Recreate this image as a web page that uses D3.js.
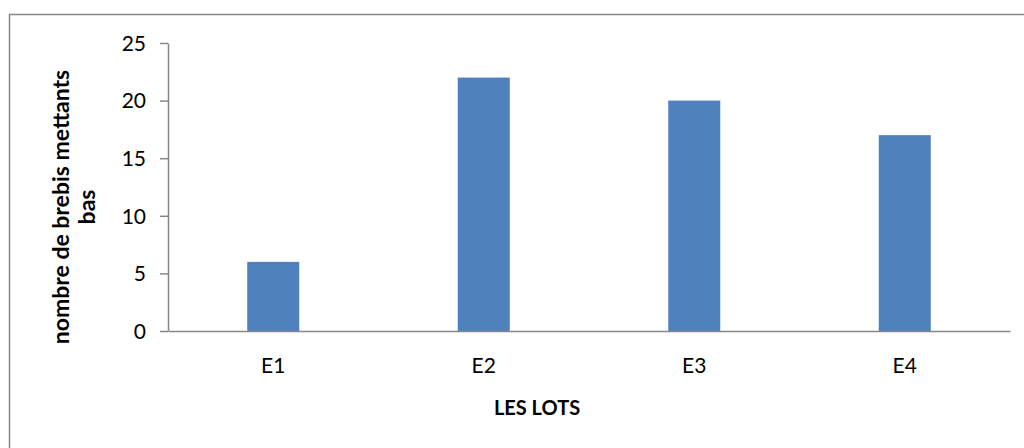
<!DOCTYPE html>
<html>
<head>
<meta charset="utf-8">
<script src="https://cdn.jsdelivr.net/npm/d3@7"></script>
<style>
  html, body { margin: 0; padding: 0; background: #fff; }
  svg { display: block; }
  text { font-family: Lato, "Open Sans", sans-serif; fill: #000; }
</style>
</head>
<body>
<svg id="chart" width="1024" height="448"></svg>
<script>
// Nombre de brebis mettants bas par lot
const lots = ["E1", "E2", "E3", "E4"];
const brebis = [6, 22, 20, 17];
const yTicks = [0, 5, 10, 15, 20, 25];

const svg = d3.select("#chart");
const W = 1024, H = 448;
const plot = { left: 168, right: 1010, top: 43, bottom: 331 };

// outer chart frame (extends past the right and bottom edges)
svg.append("rect")
  .attr("x", 9.5).attr("y", 14.5)
  .attr("width", W + 10).attr("height", H + 10)
  .attr("fill", "none").attr("stroke", "#878787").attr("stroke-width", 1.5);

const x = d3.scaleBand().domain(lots).range([plot.left, plot.right]).paddingInner(0).paddingOuter(0);
const y = d3.scaleLinear().domain([0, 25]).range([plot.bottom, plot.top]);

const barW = 52;

// bars
svg.append("g").selectAll("rect")
  .data(lots.map((l, i) => ({ lot: l, v: brebis[i] })))
  .join("rect")
  .attr("x", d => x(d.lot) + x.bandwidth() / 2 - barW / 2)
  .attr("y", d => y(d.v))
  .attr("width", barW)
  .attr("height", d => y(0) - y(d.v))
  .attr("fill", "#4F81BD");

// y axis
const yAxis = svg.append("g")
  .attr("transform", `translate(${plot.left},0)`)
  .call(d3.axisLeft(y).tickValues(yTicks).tickSize(8).tickPadding(14).tickSizeOuter(0));
yAxis.select(".domain").attr("stroke", "#878787").attr("stroke-width", 1.5);
yAxis.selectAll(".tick line").attr("stroke", "#878787").attr("stroke-width", 1.5);
yAxis.selectAll(".tick text").style("font-size", "21px").attr("fill", "#000").attr("dy", "0.35em");

// x axis
const xAxis = svg.append("g")
  .attr("transform", `translate(0,${plot.bottom})`)
  .call(d3.axisBottom(x).tickSize(0).tickPadding(27).tickSizeOuter(0));
xAxis.select(".domain").attr("stroke", "#878787").attr("stroke-width", 1.5);
xAxis.selectAll(".tick text").style("font-size", "21px").attr("fill", "#000");

// axis titles
svg.append("text")
  .attr("x", 537).attr("y", 415)
  .attr("text-anchor", "middle")
  .style("font-size", "20px").style("font-weight", "bold")
  .text("LES LOTS");

const yt = svg.append("text")
  .attr("transform", "translate(69,207) rotate(-90)")
  .attr("text-anchor", "middle")
  .style("font-size", "23px").style("font-weight", "bold");
yt.append("tspan").attr("x", 0).attr("y", 0).text("nombre de brebis mettants");
yt.append("tspan").attr("x", 0).attr("y", 26).text("bas");
</script>
</body>
</html>
